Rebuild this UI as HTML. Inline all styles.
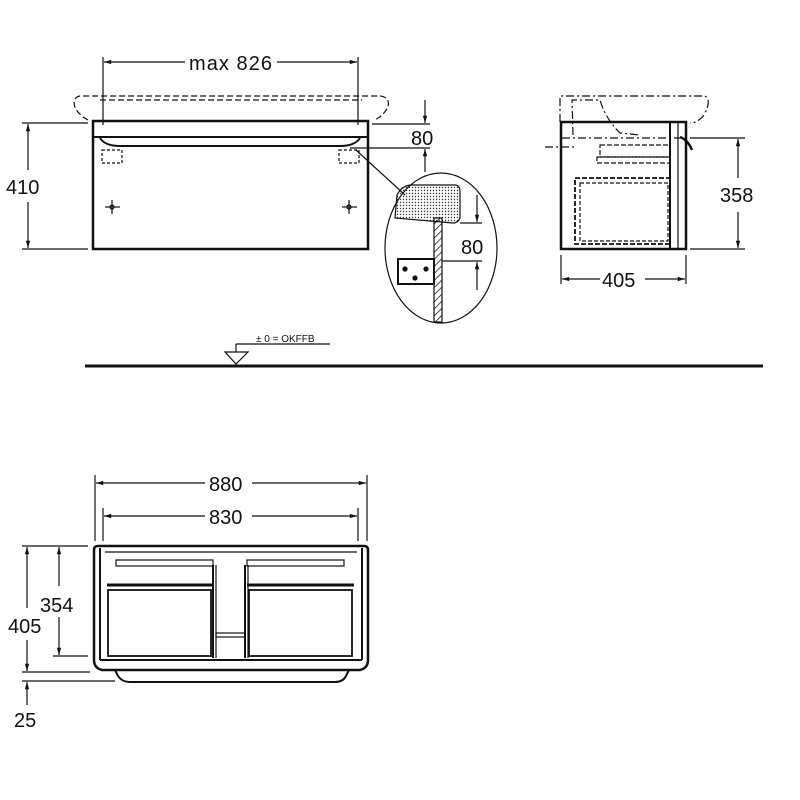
<!DOCTYPE html>
<html><head><style>body{margin:0;background:#fff}svg{display:block}text{font-family:"Liberation Sans",sans-serif;fill:#111}</style></head>
<body>
<svg width="800" height="800" viewBox="0 0 800 800" xmlns="http://www.w3.org/2000/svg">
<defs>
<marker id="a" viewBox="0 0 10 10" refX="10" refY="5" markerWidth="8" markerHeight="6" orient="auto-start-reverse"><path d="M0,2 L10,5 L0,8 z" fill="#111"/></marker>
<pattern id="dots" width="3" height="3" patternUnits="userSpaceOnUse"><circle cx="1.5" cy="1.5" r="0.7" fill="#333"/></pattern>
<pattern id="hat" width="5" height="5" patternUnits="userSpaceOnUse" patternTransform="rotate(45)"><line x1="0" y1="0" x2="0" y2="5" stroke="#111" stroke-width="1.5"/></pattern>
</defs>
<g stroke="#111" fill="none" stroke-width="1.2">
<!-- Front view -->
<line x1="103" y1="57" x2="103" y2="125"/><line x1="358" y1="57" x2="358" y2="125"/>
<line x1="104" y1="62" x2="185" y2="62" marker-start="url(#a)"/><line x1="277" y1="62" x2="357" y2="62" marker-end="url(#a)"/>
<path d="M88,120 C70,110 72,97 80,96 L380,96 C392,97 392,110 375,120" stroke-dasharray="6,3"/>
<line x1="100" y1="100" x2="362" y2="100" stroke-dasharray="6,3"/>
<rect x="93" y="121" width="275" height="128" stroke-width="2.5"/>
<line x1="93" y1="137" x2="368" y2="137" stroke-width="2"/>
<path d="M100,138 Q105,146 120,146 L340,146 Q355,146 360,138" stroke-width="2"/>
<rect x="102" y="150" width="20" height="13" stroke-dasharray="3,2"/>
<rect x="339" y="150" width="20" height="13" stroke-dasharray="3,2"/>
<g><line x1="105" y1="207" x2="120" y2="207"/><line x1="112" y1="200" x2="112" y2="214"/><circle cx="112" cy="207" r="2"/></g>
<g><line x1="342" y1="207" x2="357" y2="207"/><line x1="349" y1="200" x2="349" y2="214"/><circle cx="349" cy="207" r="2"/></g>
<line x1="22" y1="123" x2="88" y2="123"/><line x1="22" y1="249" x2="88" y2="249"/>
<line x1="28" y1="124" x2="28" y2="170" marker-start="url(#a)"/><line x1="28" y1="202" x2="28" y2="248" marker-end="url(#a)"/>
<line x1="372" y1="124" x2="430" y2="124"/><line x1="350" y1="148" x2="430" y2="148"/>
<line x1="425" y1="100" x2="425" y2="123" marker-end="url(#a)"/><line x1="425" y1="172" x2="425" y2="149" marker-end="url(#a)"/>
<line x1="356" y1="150" x2="405" y2="195"/>
<!-- detail circle -->
<ellipse cx="441" cy="248" rx="56" ry="75"/>
<path d="M395,218 L397,195 Q402,185 412,185 L455,185 Q460,185 460,192 L460,218 Q458,223 453,223 L395,218 Z" fill="url(#dots)"/>
<rect x="434" y="218" width="8" height="104" fill="url(#hat)"/>
<rect x="398" y="259" width="36" height="25" stroke-width="2"/>
<circle cx="405" cy="269" r="2" fill="#111"/><circle cx="426" cy="269" r="2" fill="#111"/><circle cx="415" cy="278" r="2" fill="#111"/>
<line x1="460" y1="223" x2="482" y2="223"/><line x1="442" y1="261" x2="482" y2="261"/>
<line x1="477" y1="195" x2="477" y2="222" marker-end="url(#a)"/><line x1="477" y1="290" x2="477" y2="262" marker-end="url(#a)"/>
<!-- Side view -->
<path d="M560,122 L560,96 L705,96 Q712,100 704,115 Q698,123 690,123" stroke-dasharray="8,3,2,3"/>
<path d="M573,135 L572,100 L600,100 Q605,118 620,133 L640,135" stroke-dasharray="8,3,2,3"/>
<line x1="545" y1="147" x2="575" y2="147" stroke-dasharray="8,3,2,3"/>
<line x1="562" y1="138" x2="685" y2="138" stroke-dasharray="8,3,2,3"/>
<rect x="561" y="122" width="125" height="127" stroke-width="2.5"/>
<line x1="670" y1="123" x2="670" y2="249" stroke-width="2"/><line x1="678" y1="123" x2="678" y2="249"/>
<rect x="600" y="145" width="70" height="12" stroke-dasharray="5,2"/>
<rect x="597" y="157" width="73" height="6" stroke-dasharray="5,2"/>
<rect x="575" y="178" width="95" height="66" stroke-dasharray="5,2" stroke-width="1.8"/>
<rect x="580" y="183" width="88" height="58" stroke-dasharray="4,2"/>
<path d="M680,137 Q688,140 692,150" stroke-width="2.5"/>
<line x1="690" y1="138" x2="745" y2="138"/><line x1="690" y1="249" x2="745" y2="249"/>
<line x1="738" y1="139" x2="738" y2="178" marker-start="url(#a)"/><line x1="738" y1="212" x2="738" y2="248" marker-end="url(#a)"/>
<line x1="561" y1="255" x2="561" y2="284"/><line x1="686" y1="255" x2="686" y2="284"/>
<line x1="562" y1="279" x2="600" y2="279" marker-start="url(#a)"/><line x1="645" y1="279" x2="685" y2="279" marker-end="url(#a)"/>
<!-- floor -->
<path d="M225,352 L248,352 L236,364 Z"/><line x1="236" y1="352" x2="236" y2="344"/><line x1="236" y1="344" x2="330" y2="344"/>
<line x1="85" y1="366" x2="763" y2="366" stroke-width="3"/>
<!-- Bottom view -->
<line x1="95" y1="475" x2="95" y2="541"/><line x1="367" y1="475" x2="367" y2="541"/>
<line x1="103" y1="508" x2="103" y2="541"/><line x1="358" y1="508" x2="358" y2="541"/>
<line x1="96" y1="483" x2="205" y2="483" marker-start="url(#a)"/><line x1="252" y1="483" x2="366" y2="483" marker-end="url(#a)"/>
<line x1="104" y1="516" x2="205" y2="516" marker-start="url(#a)"/><line x1="252" y1="516" x2="357" y2="516" marker-end="url(#a)"/>
<path d="M98,546 L364,546 Q368,546 368,550 L368,660 Q368,668 360,670 L102,670 Q94,668 94,660 L94,550 Q94,546 98,546 Z" stroke-width="2.5"/>
<path d="M115,670 L118,676 Q122,682 130,682 L335,682 Q343,682 346,676 L349,670" stroke-width="2"/>
<line x1="100" y1="660" x2="362" y2="660" stroke-width="2"/>
<line x1="100" y1="548" x2="100" y2="660" stroke-width="2"/><line x1="362" y1="548" x2="362" y2="660" stroke-width="2"/>
<line x1="105" y1="552" x2="357" y2="552"/>
<rect x="116" y="560" width="97" height="6"/>
<rect x="247" y="560" width="97" height="6"/>
<line x1="107" y1="585" x2="213" y2="585" stroke-width="3"/><line x1="247" y1="585" x2="354" y2="585" stroke-width="3"/>
<rect x="108" y="590" width="103" height="66" stroke-width="1.8"/>
<rect x="249" y="590" width="103" height="66" stroke-width="1.8"/>
<line x1="213" y1="565" x2="213" y2="658" stroke-width="2"/><line x1="216" y1="565" x2="216" y2="658"/>
<line x1="245" y1="565" x2="245" y2="658" stroke-width="2"/><line x1="248" y1="565" x2="248" y2="658"/>
<rect x="216" y="633" width="29" height="4"/>
<line x1="22" y1="546" x2="88" y2="546"/><line x1="53" y1="656" x2="88" y2="656"/>
<line x1="22" y1="672" x2="90" y2="672"/><line x1="22" y1="681" x2="115" y2="681"/>
<line x1="27" y1="547" x2="27" y2="608" marker-start="url(#a)"/><line x1="27" y1="640" x2="27" y2="671" marker-end="url(#a)"/>
<line x1="59" y1="547" x2="59" y2="586" marker-start="url(#a)"/><line x1="59" y1="617" x2="59" y2="655" marker-end="url(#a)"/>
<line x1="27" y1="705" x2="27" y2="682" marker-end="url(#a)"/>
</g>
<g font-size="20">
<text x="189" y="70" textLength="83">max 826</text>
<text x="6" y="194">410</text>
<text x="411" y="145">80</text>
<text x="461" y="254">80</text>
<text x="720" y="202">358</text>
<text x="602" y="287">405</text>
<text x="209" y="491">880</text>
<text x="209" y="524">830</text>
<text x="40" y="612">354</text>
<text x="8" y="633">405</text>
<text x="14" y="727">25</text>
</g>
<text x="256" y="342" font-size="10">± 0 = OKFFB</text>
</svg>
</body></html>
